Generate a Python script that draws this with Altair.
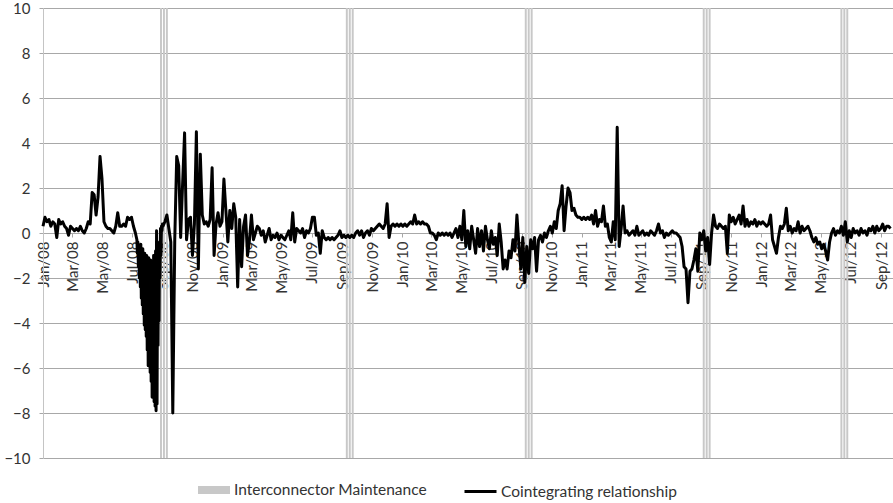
import altair as alt
import pandas as pd

# Cointegrating relationship: mostly one reading every 4 days,
# daily readings through the July-August 2008 collapse.
vals_2008_jan_jul = [
    0.3, 0.7, 0.5, 0.6, 0.3, 0.5, 0.4, -0.2, 0.6, 0.4,
    0.5, 0.3, 0.2, -0.1, 0.3, 0.2, 0.1, 0.2, 0.1, 0.3,
    0.1, 0.0, 0.2, 0.5, 0.4, 1.8, 1.7, 0.8, 1.6, 3.4,
    2.4, 0.5, 0.3, 0.2, 0.2, 0.1, 0.0, 0.3, 0.9, 0.3,
    0.3, 0.4, 0.3, 0.7, 0.6, 0.7, 0.3, 0.0,
]
vals_2008_jul_aug_daily = [
    -0.3, -0.9, -0.4, -1.5, -0.6, -2.0, -0.8, -2.4, -0.5, -2.9,
    -1.0, -3.2, -0.7, -3.6, -1.2, -4.1, -0.9, -4.3, -1.4, -4.6,
    -1.0, -5.2, -1.5, -5.9, -1.1, -5.8, -1.6, -6.2, -1.2, -6.6,
    -1.8, -7.3, -1.4, -7.2, -1.0, -7.5, -1.6, -7.7, -0.8, -7.9,
    0.1, -7.6, -1.2, -5.0, -0.6, -3.9, -0.4, -2.0, 0.2, -1.0,
    0.3, 0.1, 0.4,
]
vals_2008_sep_dec = [
    0.3, 0.5, 0.8, 0.2, -0.4, -8.0, -0.3, 3.4, 3.0, -0.2,
    2.2, 4.45, -0.3, 0.6, 0.7, -1.0, 0.4, 4.5, -1.6, 3.5,
    0.8, 0.4, 0.5, 0.3, 0.6, 2.9, -1.0, 0.4, 0.9, 0.3,
    0.5,
]
vals_2009 = [
    2.4, 1.0, -0.4, 1.0, 0.2, 1.3, 0.7, -2.4, 0.6, -1.5,
    0.3, 0.8, -1.0, -0.3, 0.8, -0.3, 0.0, 0.3, 0.2, -0.1,
    0.1, -0.4, -0.1, 0.2, -0.3, -0.1, -0.2, 0.0, -0.3, -0.1,
    -0.2, -0.3, -0.1, 0.1, -0.3, 0.9, -0.4, 0.2, 0.1, 0.0,
    0.2, -0.2, 0.1, 0.0, 0.2, 0.7, 0.7, -0.1, 0.0, -0.9,
    0.1, -0.2, -0.3, -0.2, -0.3, -0.2, -0.3, -0.2, -0.1, 0.1,
    -0.2, -0.1, -0.2, -0.1, -0.2, -0.1, -0.2, 0.0, 0.1, -0.1,
    0.1, -0.2, 0.0, 0.1, -0.1, 0.2, 0.1, 0.2, 0.3, 0.4,
    0.3, 0.2, 0.4, 1.3, -0.2, 0.3, 0.4, 0.3, 0.4, 0.3,
    0.4,
]
vals_2010 = [
    0.3, 0.4, 0.3, 0.4, 0.5, 0.4, 0.8, 0.4, 0.5, 0.4,
    0.5, 0.4, 0.4, 0.3, 0.0, 0.0, -0.1, -0.3, 0.0, -0.1,
    0.0, -0.1, 0.0, -0.1, 0.0, -0.2, 0.0, 0.2, -0.2, 0.3,
    -0.3, 1.0, -0.6, 0.1, -0.7, 0.3, -0.3, -0.9, 0.2, -0.6,
    0.1, -0.8, 0.3, -0.3, -0.7, 0.1, -0.5, -0.2, -1.0, 0.4,
    -0.4, -1.6, -1.2, -1.6, -0.8, -1.1, -0.3, -0.8, 0.8, -0.5,
    -1.6, -0.2, -2.2, -0.6, -1.8, -0.3, -0.7, -0.2, -1.7, -0.3,
    -0.1, -0.4, 0.0, -0.2, 0.1, 0.3, 0.0, 0.5, 0.2, 1.0,
    1.3, 2.1, 0.1, 1.2, 2.0, 1.8, 1.0, 1.1, 0.8, 0.7,
    0.7,
]
vals_2011 = [
    0.6, 0.7, 0.6, 0.7, 0.6, 0.8, 0.4, 1.0, 0.3, 0.6,
    0.5, 1.2, 0.3, 0.4, -0.2, -0.4, 0.5, -0.3, 4.7, -0.6,
    0.2, 1.2, 0.0, 0.1, -0.1, 0.0, 0.1, -0.1, 0.3, -0.1,
    0.0, 0.1, -0.1, 0.0, -0.1, 0.1, 0.0, -0.1, 0.1, 0.4,
    0.0, 0.1, -0.2, 0.0, -0.1, 0.0, 0.1, 0.0, 0.0, -0.1,
    -0.2, -0.6, -1.5, -1.6, -3.1, -1.7, -1.6, -1.2, -0.7, -1.7,
    0.0, -0.3, 0.1, -0.8, -0.2, -1.4, 0.0, 0.8, 0.3, 0.2,
    0.4, 0.3, 0.2, 0.3, -0.9, 0.8, 0.5, 0.7, 0.4, 0.6,
    0.8, 0.4, 1.2, 0.3, 0.6, 0.3, 0.5, 0.4, 0.6, 0.3,
    0.5, 0.4,
]
vals_2012 = [
    0.5, 0.4, 0.3, 0.4, 0.8, -0.3, -0.6, -0.9, -0.2, 0.3,
    0.2, 0.4, 1.1, 0.1, 0.3, 0.0, 0.2, 0.1, 0.5, 0.0,
    0.3, 0.1, 0.2, 0.3, 0.1, -0.2, -0.4, -0.2, -0.5, -0.4,
    -0.7, -0.5, -0.8, -1.2, -0.4, 0.0, 0.2, -0.1, 0.1, 0.0,
    0.3, -0.1, 0.5, -0.4, 0.1, -0.2, 0.2, 0.0, 0.1, -0.1,
    0.2, 0.0, 0.1, -0.1, 0.2, 0.1, 0.3, 0.0, 0.3, 0.1,
    0.2, 0.4, 0.1, 0.3, 0.3, 0.2,
]

# (first date, spacing, readings) for each run of the series
segments = [
    ("2008-01-01", "4D", vals_2008_jan_jul),
    ("2008-07-10", "1D", vals_2008_jul_aug_daily),
    ("2008-09-01", "4D", vals_2008_sep_dec + vals_2009 + vals_2010 + vals_2011 + vals_2012),
]

# First day of each interconnector maintenance window
maintenance_start = ["2008-08-26", "2009-09-08", "2010-09-07", "2011-09-04", "2012-06-10"]
band_low, band_high = -10, 10

LINE_NAME = "Cointegrating relationship"
BAND_NAME = "Interconnector Maintenance"

parts = []
for start, step, vals in segments:
    parts.append(pd.DataFrame({
        "date": pd.date_range(start, periods=len(vals), freq=step),
        "value": vals,
    }))
line_df = pd.concat(parts, ignore_index=True)
line_df["series"] = LINE_NAME

# each window is drawn as three narrow bar groups
rows = []
for s in maintenance_start:
    t0 = pd.Timestamp(s)
    for k in range(3):
        rows.append({
            "start": t0 + pd.Timedelta(days=6 * k),
            "end": t0 + pd.Timedelta(days=6 * k + 4),
            "lo": band_low,
            "hi": band_high,
            "series": BAND_NAME,
        })
band_df = pd.DataFrame(rows)

FONT = "Lato"
TEXT = "#333333"
GRID = "#a8a8a8"

tick_dates = [
    alt.DateTime(year=y, month=m, date=1)
    for y in range(2008, 2013)
    for m in (1, 3, 5, 7, 9, 11)
    if not (y == 2012 and m > 9)
]

x_scale = alt.Scale(domain=[alt.DateTime(year=2008, month=1, date=1),
                            alt.DateTime(year=2012, month=9, date=25)])
y_scale = alt.Scale(domain=[-10, 10], nice=False)

x_axis = alt.Axis(
    orient="bottom", offset=-225, values=tick_dates, format="%b/%y",
    labelAngle=270, labelFlush=False, labelOverlap=False,
    labelFont=FONT, labelFontSize=15, labelColor=TEXT, labelPadding=4,
    tickSize=4, tickColor=GRID, domainColor=GRID, grid=False, zindex=0,
)
y_axis = alt.Axis(
    values=list(range(-10, 11, 2)), tickSize=4, tickColor=GRID,
    domainColor="#c4c4c4", gridColor=GRID, labelFont=FONT, labelFontSize=15,
    labelColor=TEXT, labelPadding=9, zindex=0,
)

bands = alt.Chart(band_df).mark_rect().encode(
    x=alt.X("start:T", scale=x_scale, axis=x_axis, title=None),
    x2="end:T",
    y=alt.Y("lo:Q", scale=y_scale, axis=y_axis, title=None),
    y2="hi:Q",
    color=alt.Color(
        "series:N", scale=alt.Scale(range=["#c8c8c8"]),
        legend=alt.Legend(
            title=None, orient="none", legendX=155, legendY=466,
            symbolType="M-1,-0.25H1V0.25H-1Z", symbolSize=1024,
            symbolStrokeWidth=0, labelFont=FONT, labelFontSize=15.5,
            labelColor=TEXT, labelOffset=4, labelLimit=0,
        ),
    ),
)

line = alt.Chart(line_df).mark_line(strokeWidth=3, strokeJoin="round").encode(
    x=alt.X("date:T", scale=x_scale, axis=x_axis, title=None),
    y=alt.Y("value:Q", scale=y_scale, axis=y_axis, title=None),
    color=alt.Color(
        "series:N", scale=alt.Scale(range=["#000000"]),
        legend=alt.Legend(
            title=None, orient="none", legendX=420, legendY=466,
            symbolType="stroke", symbolSize=1024, symbolStrokeWidth=3,
            labelFont=FONT, labelFontSize=15.5, labelColor=TEXT, labelOffset=3,
            labelLimit=0,
        ),
    ),
)

chart = (
    alt.layer(bands, line)
    .resolve_scale(color="independent")
    .properties(
        width=850, height=450, autosize="none",
        padding={"left": 43, "top": 8, "right": 0, "bottom": 45},
        background="white",
    )
    .configure_view(stroke=None)
)

chart.save("out.html", embed_options={"renderer": "svg", "actions": False})
